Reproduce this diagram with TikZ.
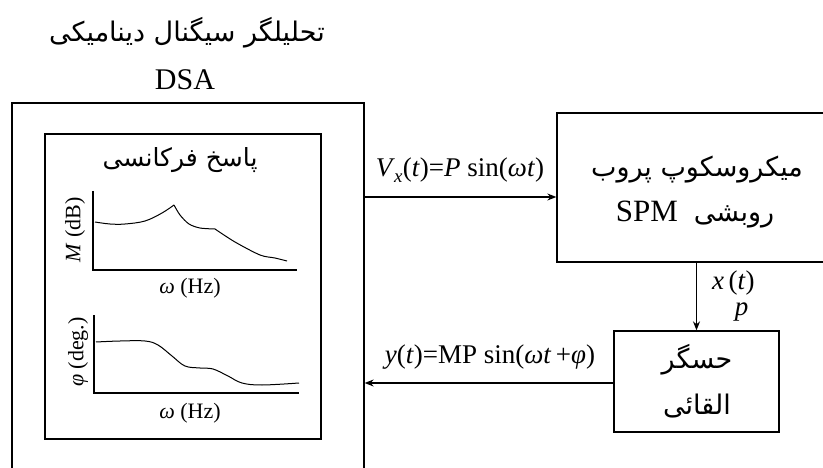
\documentclass[tikz,border=0pt]{standalone}
\usepackage{fontspec}
\setmainfont{Liberation Serif}
\newfontfamily\fa[Script=Arabic]{DejaVu Sans}
\TeXXeTstate=1
\usetikzlibrary{arrows.meta}
\begin{document}
\begin{tikzpicture}[x=1pt,y=-1pt,
  box/.style={draw,line width=1.3pt,inner sep=0pt},
  arr/.style={line width=1.3pt,-{Stealth[length=9pt,width=7pt]}},
  axis/.style={line width=1.3pt},
  crv/.style={line width=1pt},
  lbl/.style={font=\fontsize{27}{31}\selectfont},
  sml/.style={font=\fontsize{22}{26}\selectfont},
  fat/.style={font=\fa\fontsize{27}{31}\selectfont}]
\useasboundingbox (0,0) rectangle (823,468);
\clip (0,0) rectangle (823,468);

% titles
\node[fat] (t1) at (187,33) {\beginR تحلیلگر سیگنال دینامیکی\endR};
\node[font=\fontsize{30}{34}\selectfont] (t2) at (185,80) {DSA};

% boxes
\node[box,minimum width=352pt,minimum height=394pt] (dsa) at (188,300) {};
\node[box,minimum width=276pt,minimum height=305pt] (inner) at (183,286.5) {};
\node[box,minimum width=286pt,minimum height=149pt] (spm) at (700,187.5) {};
\node[box,minimum width=165pt,minimum height=101pt] (sen) at (696.5,381.5) {};

% texts in boxes
\node[fat,font=\fa\fontsize{25}{29}\selectfont] (fr) at (180,160) {\beginR پاسخ فرکانسی\endR};
\node[fat] (s1) at (697,170) {\beginR میکروسکوپ پروب\endR};
\node[fat] (s2) at (695,215) {\beginR روبشی\hspace{16pt}\beginL\fontspec{Liberation Serif}\fontsize{31}{34}\selectfont SPM\endL{}\endR};
\node[fat] (d1) at (697,360) {\beginR حسگر\endR};
\node[fat] (d2) at (697,406) {\beginR القائی\endR};

% connectors
\coordinate (a1) at ([yshift=-9.5pt]spm.west);
\draw[arr] (dsa.east |- a1) -- (a1);
\draw[arr] (spm.south -| sen.north) -- (sen.north);
\draw[arr] ([yshift=-1.5pt]sen.west) -- ([yshift=-1.5pt]sen.west -| dsa.east);

% labels
\node[lbl] (l1) at (460,170) {\textit{V}\textsubscript{\kern-1pt\raisebox{-2pt}{\textit{x}}}(\textit{t})=\textit{P} sin(\textit{ωt})};
\node[lbl] (l2) at (490,357) {\textit{y}(\textit{t})=MP sin(\textit{ωt}\,+\textit{φ})};
\node[lbl,anchor=west,inner sep=0pt] (l3) at (712,296) {\textit{x}\,\begin{tabular}[t]{@{}c@{}}(\textit{t})\\[-5pt]\textit{p}\end{tabular}};

% plot 1
\draw[axis] (93,191) coordinate (p1t) -- (93,270) coordinate (p1o) -- (297,270) coordinate (p1r);
\draw[crv] plot[smooth,tension=0.6] coordinates {(95,222) (110,224) (125,224) (145,221) (162,213) (174,205)};
\draw[crv] plot[smooth,tension=0.5] coordinates {(174,205) (180,215) (189,224) (200,228) (215,229)};
\draw[crv] plot[smooth,tension=0.5] coordinates {(215,229) (235,242) (260,255) (275,258) (287,261)};
\node[sml,rotate=90] (m1) at (75,230) {\textit{M} (dB)};
\node[sml] (w1) at (190,288) {\textit{ω} (Hz)};

% plot 2
\draw[axis] (94,315) coordinate (p2t) -- (94,393) coordinate (p2o) -- (299,393) coordinate (p2r);
\draw[crv] plot[smooth,tension=0.6] coordinates {(96,342) (120,341) (145,341) (158,345) (172,356) (185,366) (200,368) (213,369) (228,376) (242,383) (262,385) (299,383)};
\node[sml,rotate=90] (m2) at (78,352) {\textit{φ} (deg.)};
\node[sml] (w2) at (190,413) {\textit{ω} (Hz)};
\end{tikzpicture}
\end{document}
